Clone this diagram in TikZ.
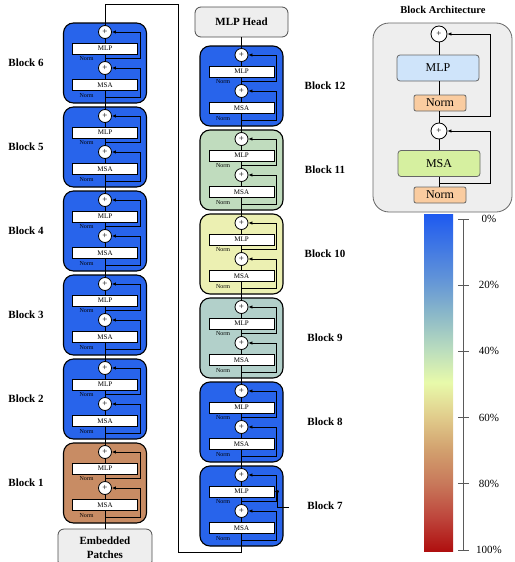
\documentclass[tikz,border=0pt]{standalone}
\usepackage{fontspec}
\setmainfont{Liberation Serif}
\usetikzlibrary{arrows.meta,positioning}

\definecolor{blockblue}{RGB}{40,100,235}
\definecolor{blockbrown}{RGB}{200,140,100}
\definecolor{blockgreen}{RGB}{192,220,190}
\definecolor{blockyellow}{RGB}{236,240,178}
\definecolor{blockteal}{RGB}{178,208,202}
\definecolor{panelgray}{RGB}{238,238,238}
\definecolor{mlpblue}{RGB}{207,228,250}
\definecolor{msagreen}{RGB}{214,240,160}
\definecolor{normorange}{RGB}{250,204,160}
\definecolor{axisgray}{RGB}{90,90,90}

% tikz stretches 25bp..75bp over the path
\pgfdeclareverticalshading{heatbar}{100bp}{%
  color(0bp)=({rgb,255:red,175;green,15;blue,15});
  color(25bp)=({rgb,255:red,175;green,15;blue,15});
  color(30bp)=({rgb,255:red,190;green,70;blue,60});
  color(35bp)=({rgb,255:red,200;green,120;blue,90});
  color(40bp)=({rgb,255:red,210;green,160;blue,110});
  color(45bp)=({rgb,255:red,225;green,205;blue,140});
  color(50bp)=({rgb,255:red,232;green,250;blue,170});
  color(55bp)=({rgb,255:red,185;green,220;blue,190});
  color(60bp)=({rgb,255:red,140;green,185;blue,200});
  color(65bp)=({rgb,255:red,100;green,150;blue,215});
  color(75bp)=({rgb,255:red,30;green,90;blue,240});
  color(100bp)=({rgb,255:red,30;green,90;blue,240})}

\tikzset{
  blockbox/.style={draw, rounded corners=10pt, minimum width=83pt, minimum height=80pt, line width=1.1pt},
  layerbox/.style={draw, fill=white, minimum width=65pt, minimum height=11pt, inner sep=0pt, font=\fontsize{7}{7}\selectfont},
  addnode/.style={draw, circle, fill=white, minimum size=13pt, inner sep=0pt, font=\fontsize{9}{9}\selectfont},
  normtag/.style={font=\fontsize{6}{6}\selectfont, inner sep=0pt},
  blocklabel/.style={font=\fontsize{11}{11}\selectfont\bfseries},
  skip/.style={-{Latex[length=4pt,width=3.5pt]}, line width=0.9pt},
  endbox/.style={draw=black!70, fill=panelgray, rounded corners=6pt, minimum width=94pt, line width=0.8pt, font=\fontsize{11}{14}\selectfont\bfseries, align=center},
  archlayer/.style={draw=black!60, rounded corners=3pt, minimum width=82pt, minimum height=26pt, font=\fontsize{12}{12}\selectfont},
  archnorm/.style={draw=black!60, fill=normorange, rounded corners=2pt, minimum width=52pt, minimum height=16pt, inner sep=0pt, font=\fontsize{12}{12}\selectfont},
  archadd/.style={draw, circle, fill=white, minimum size=16pt, inner sep=0pt, font=\fontsize{9}{9}\selectfont},
  pctlabel/.style={font=\fontsize{11}{11}\selectfont},
}

% one transformer block: name, x, top y, fill, label x, number
\newcommand{\vitblock}[6]{%
  \node[blockbox, fill=#4] (#1) at (#2,#3+40) {};
  \node[addnode] (#1-top) at (#2,#3+9) {+};
  \node[layerbox] (#1-mlp) at (#2,#3+25.5) {MLP};
  \node[normtag] at (#2-18.5,#3+36) {Norm};
  \node[addnode] (#1-mid) at (#2,#3+45) {+};
  \node[layerbox] (#1-msa) at (#2,#3+62) {MSA};
  \node[normtag] at (#2-18.5,#3+73) {Norm};
  \draw (#1-msa.north) -- (#1-mid.south);
  \draw (#1-mid.north) -- (#1-mlp.south);
  \draw (#1-mlp.north) -- (#1-top.south);
  \draw[skip] (#2,#3+74) -- ++(35,0) |- (#1-mid.east);
  \draw[skip] (#2,#3+35) -- ++(35,0) |- (#1-top.east);
  \node[blocklabel] (#1-lab) at (#5,#3+40) {Block #6};
}

\begin{document}
\begin{tikzpicture}[x=1pt,y=-1pt,line width=0.8pt]
\useasboundingbox (0,0) rectangle (514,562);

% encoder blocks, two columns
\foreach \n/\yy/\col in {1/443/blockbrown, 2/359/blockblue, 3/275/blockblue,
                         4/191/blockblue, 5/107/blockblue, 6/23/blockblue}
  \vitblock{b\n}{105}{\yy}{\col}{26}{\n};
\foreach \n/\yy/\col in {7/466/blockblue, 8/382/blockblue, 9/298/blockteal,
                         10/214/blockyellow, 11/130/blockgreen, 12/46/blockblue}
  \vitblock{b\n}{241.5}{\yy}{\col}{325}{\n};

\node[endbox, minimum height=38pt] (patches) at (105,548) {Embedded\\Patches};
\node[endbox, minimum width=93pt, minimum height=30pt] (head) at (241.5,22) {MLP Head};

% connections
\draw (patches.north) -- (b1-msa.south);
\foreach \a/\b in {1/2,2/3,3/4,4/5,5/6,7/8,8/9,9/10,10/11,11/12}
  \draw (b\a-top.north) -- (b\b-msa.south);
\draw (b12-top.north) -- (head.south);
\coordinate (turnA) at (178,4);
\coordinate (turnB) at (178,552);
\draw (b6-top.north) |- (turnA) -- (turnB) -| (b7-msa.south);
\coordinate (b7tag) at (289,507);
\draw[skip] (b7tag) -- (277.5,507) |- (b7-mlp.east);

% block architecture
\node[font=\fontsize{10.5}{12}\selectfont\bfseries] (archtitle) at (443,10) {Block Architecture};
\draw[draw=black!60, fill=panelgray, rounded corners=16pt] (373,23) rectangle (512,212);
\node[archadd] (a-top) at (439,34) {+};
\node[archlayer, fill=mlpblue] (a-mlp) at (438,68) {MLP};
\node[archnorm] (a-norm2) at (440,103) {Norm};
\node[archadd] (a-mid) at (439,131) {+};
\node[archlayer, fill=msagreen] (a-msa) at (439,163.5) {MSA};
\node[archnorm] (a-norm1) at (440,195) {Norm};
\draw (a-norm1.north -| a-msa) -- (a-msa.south);
\draw (a-msa.north) -- (a-mid.south);
\draw (a-mid.north) -- (a-norm2.south -| a-mid);
\draw (a-norm2.north -| a-mid) -- (a-mlp.south -| a-mid);
\draw (a-mlp.north -| a-top) -- (a-top.south);
\draw[skip] (439,116) -- (490,116) |- (a-top.east);
\draw[skip] (439,183) -- (490,183) |- (a-mid.east);

% colour bar
\shade[shading=heatbar] (424,214) rectangle (453,551);
\draw[axisgray] (463,219) -- (463,550);
\foreach \k in {0,20,...,100} {
  \draw[axisgray] (458,219+3.31*\k) -- (469,219+3.31*\k);
  \node[pctlabel] at (489,219+3.31*\k) {\k\%};
}
\end{tikzpicture}
\end{document}
